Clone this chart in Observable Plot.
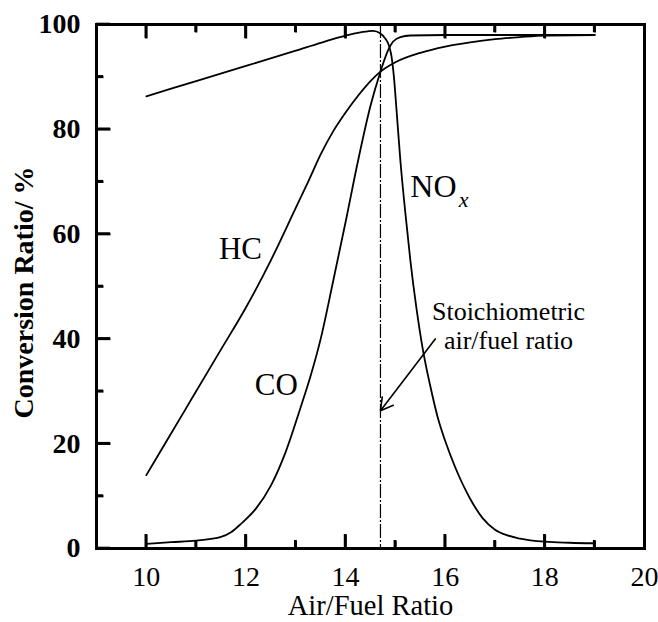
<!DOCTYPE html>
<html><head><meta charset="utf-8">
<script src="https://cdn.jsdelivr.net/npm/d3@7"></script>
<script src="https://cdn.jsdelivr.net/npm/@observablehq/plot@0.6"></script>
<style>
body{margin:0;background:#fff}
#chart svg{font-family:"Liberation Serif","Times New Roman",serif;font-size:28px;background:#fff;color:#000}
#chart svg [aria-label^="y-axis"] text{font-weight:bold}
</style>
</head><body><div id="chart"></div>
<script>
// Air/fuel ratio (x) and conversion ratio % (y) for each series
const hcX = [10, 10.5, 11, 11.5, 12, 12.5, 13, 13.25, 13.5, 13.75, 14, 14.25, 14.5, 14.7, 15, 15.5, 16, 16.5, 17, 17.5, 18, 19];
const hcY = [14, 22, 30, 38, 46, 55, 65, 70, 75.2, 79.6, 83.2, 86.4, 89.2, 91, 92.8, 94.6, 95.8, 96.6, 97.2, 97.6, 97.9, 98];

const coX = [10, 10.5, 11, 11.5, 11.7, 11.9, 12.2, 12.5, 12.8, 13.1, 13.3, 13.5, 13.75, 14, 14.25, 14.5, 14.7, 14.85, 14.95, 15.1, 15.3, 16, 17, 18, 19];
const coY = [0.9, 1.2, 1.5, 2.2, 3.1, 4.7, 7.6, 12, 18.5, 27, 33, 40, 51, 62.3, 74, 84.5, 91, 95, 96.7, 97.6, 97.9, 98, 98, 98, 98];

const noX = [10, 11, 12, 13, 13.5, 14, 14.3, 14.55, 14.7, 14.8, 14.87, 14.92, 14.97, 15.02, 15.1, 15.2, 15.3, 15.42, 15.55, 15.7, 15.85, 16, 16.2, 16.5, 16.75, 17, 17.25, 17.5, 18, 18.5, 19];
const noY = [86.3, 89.2, 92.1, 95.0, 96.5, 97.9, 98.5, 98.8, 98.3, 97.3, 96, 94, 90, 84, 74, 64, 55, 46, 38, 31, 25, 20.5, 15.5, 9.5, 5.8, 3.6, 2.5, 1.9, 1.3, 1.1, 1.0];

const stoich = [14.7];

// ticks and tick labels
const xMajor = [10, 12, 14, 16, 18];
const xMinor = [11, 13, 15, 17, 19];
const yMajor = [0, 20, 40, 60, 80, 100];
const yMinor = [10, 30, 50, 70, 90];
const xLabels = [10, 12, 14, 16, 18, 20];
const yLabels = [0, 20, 40, 60, 80, 100];

// annotations
const hcLabel = ["HC"], hcLabelPos = [11.89, 55.2];
const coLabel = ["CO"], coLabelPos = [12.61, 29.2];
const noLabel = ["NO"], noLabelPos = [15.30, 67.0];
const subLabel = ["x"], subLabelPos = [16.27, 65.1];
const noteText = ["Stoichiometric\nair/fuel ratio"], notePos = [17.27, 38.0];
const arrowFrom = [15.8, 40.0], arrowTo = [14.7, 26.3];

const W = 658, H = 622, ML = 96, MR = 14, MT = 24, MB = 74;
const plotW = W - ML - MR, plotH = H - MT - MB;
const xDom = [9, 20], yDom = [0, 100];
const majorLen = 14, minorLen = 8, yMinorLen = 7, tickHalf = 1.3;
// pixel sizes expressed in data units along each axis
const pxToY = (px) => px / plotH * (yDom[1] - yDom[0]);
const pxToX = (px) => px / plotW * (xDom[1] - xDom[0]);

// inward tick boxes: x1,x2,y1,y2 in data units
const tickBoxes = [
  ...xMajor.map(v => ({x1: v - pxToX(tickHalf), x2: v + pxToX(tickHalf), y1: yDom[0], y2: yDom[0] + pxToY(majorLen)})),
  ...xMinor.map(v => ({x1: v - pxToX(tickHalf), x2: v + pxToX(tickHalf), y1: yDom[0], y2: yDom[0] + pxToY(minorLen)})),
  ...xMajor.map(v => ({x1: v - pxToX(tickHalf), x2: v + pxToX(tickHalf), y1: yDom[1] - pxToY(majorLen), y2: yDom[1]})),
  ...xMinor.map(v => ({x1: v - pxToX(tickHalf), x2: v + pxToX(tickHalf), y1: yDom[1] - pxToY(minorLen), y2: yDom[1]})),
  ...yMajor.map(v => ({x1: xDom[0], x2: xDom[0] + pxToX(majorLen), y1: v - pxToY(tickHalf), y2: v + pxToY(tickHalf)})),
  ...yMinor.map(v => ({x1: xDom[0], x2: xDom[0] + pxToX(yMinorLen), y1: v - pxToY(tickHalf), y2: v + pxToY(tickHalf)}))
];
const tickLines = tickBoxes.map(b => (b.x2 - b.x1) < (b.y2 - b.y1) * 0.2
  ? {x1: (b.x1 + b.x2) / 2, x2: (b.x1 + b.x2) / 2, y1: b.y1, y2: b.y2}
  : {x1: b.x1, x2: b.x2, y1: (b.y1 + b.y2) / 2, y2: (b.y1 + b.y2) / 2});

const zip = (xs, ys) => xs.map((x, i) => ({x, y: ys[i]}));
const at = (pos) => ({x: () => pos[0], y: () => pos[1]});

const chart = Plot.plot({
  width: W, height: H,
  marginLeft: ML, marginRight: MR, marginTop: MT, marginBottom: MB,
  x: {domain: xDom, ticks: xLabels, tickSize: 0, tickPadding: 18, label: null},
  y: {domain: yDom, ticks: yLabels, tickSize: 0, tickPadding: 16, label: null},
  marks: [
    Plot.ruleX(stoich, {stroke: "#000", strokeWidth: 1.2, strokeDasharray: "14,2,2,2"}),
    Plot.line(zip(hcX, hcY), {x: "x", y: "y", curve: "monotone-x", stroke: "#000", strokeWidth: 1.8}),
    Plot.line(zip(coX, coY), {x: "x", y: "y", curve: "monotone-x", stroke: "#000", strokeWidth: 1.8}),
    Plot.line(zip(noX, noY), {x: "x", y: "y", curve: "monotone-x", stroke: "#000", strokeWidth: 1.8}),
    Plot.text(["Air/Fuel Ratio"], {frameAnchor: "bottom", dy: 66, lineAnchor: "bottom", textAnchor: "middle", fontSize: 28.5, fill: "#000"}),
    Plot.text(["Conversion Ratio/ %"], {frameAnchor: "left", dx: -72, dy: 6, rotate: -90, textAnchor: "middle", lineAnchor: "middle", fontSize: 28, fontWeight: "bold", fill: "#000"}),
    Plot.text(hcLabel, {...at(hcLabelPos), text: d => d, lineAnchor: "bottom", textAnchor: "middle", fontSize: 31, fill: "#000"}),
    Plot.text(coLabel, {...at(coLabelPos), text: d => d, lineAnchor: "bottom", textAnchor: "middle", fontSize: 31, fill: "#000"}),
    Plot.text(noLabel, {...at(noLabelPos), text: d => d, lineAnchor: "bottom", textAnchor: "start", fontSize: 32, fill: "#000"}),
    Plot.text(subLabel, {...at(subLabelPos), text: d => d, lineAnchor: "bottom", textAnchor: "start", fontSize: 22, fontStyle: "italic", fill: "#000"}),
    Plot.text(noteText, {...at(notePos), text: d => d, lineAnchor: "bottom", textAnchor: "middle", lineHeight: 1.12, fontSize: 26, fill: "#000"}),
    Plot.arrow([0], {x1: arrowFrom[0], y1: arrowFrom[1], x2: arrowTo[0], y2: arrowTo[1], stroke: "#000", strokeWidth: 1.6, headLength: 13}),
    Plot.frame({stroke: "#000", strokeWidth: 3}),
    // inward ticks (bottom, top, left): filled boxes plus stroked links
    Plot.rect(tickBoxes, {x1: "x1", x2: "x2", y1: "y1", y2: "y2", fill: "#000"}),
    Plot.link(tickLines, {x1: "x1", y1: "y1", x2: "x2", y2: "y2", stroke: "#000", strokeWidth: 2.5})
  ]
});
document.getElementById("chart").append(chart);
</script>
</body></html>
